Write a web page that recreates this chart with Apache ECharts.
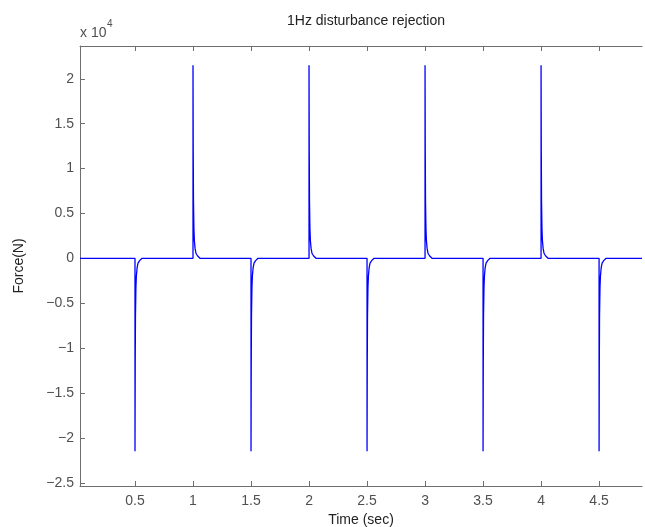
<!DOCTYPE html>
<html>
<head>
<meta charset="utf-8">
<script src="https://cdn.jsdelivr.net/npm/echarts@6/dist/echarts.min.js"></script>
<style>
html,body{margin:0;padding:0;background:#fff;}
#chart{width:645px;height:527px;}
</style>
</head>
<body>
<div id="chart"></div>
<script>
// ---- data ----
const spikeTimes = [0.5, 1.0, 1.5, 2.0, 2.5, 3.0, 3.5, 4.0, 4.5];
const spikePeaks = [-21500, 21500, -21500, 21500, -21500, 21500, -21500, 21500, -21500];
// decay shape after each spike (time offset in s, fraction of peak)
const decayOffsets   = [0, 0.002, 0.004, 0.008, 0.012, 0.018, 0.026, 0.04, 0.06];
const decayFractions = [1, 0.55, 0.3, 0.15, 0.09, 0.05, 0.025, 0.012, 0];
const xTicks = [0.5, 1, 1.5, 2, 2.5, 3, 3.5, 4, 4.5];
const yTicks = [-25000, -20000, -15000, -10000, -5000, 0, 5000, 10000, 15000, 20000];
const xMin = 0.026, xMax = 4.87;
const yMin = -25360, yMax = 23650;

// build the polyline
const data = [[xMin, 0]];
spikeTimes.forEach((t, i) => {
  data.push([t, 0]);
  decayOffsets.forEach((o, k) => data.push([t + o, spikePeaks[i] * decayFractions[k] + 0]));
});
data.push([xMax, 0]);

const axisColor = '#6e6e6e';
const textColor = '#505050';
const font = 'Liberation Sans, Arial, Helvetica, sans-serif';
const fmtY = v => { const s = String(Math.abs(v / 10000)); return v < 0 ? '\u2212' + s : s; };

const chart = echarts.init(document.getElementById('chart'));
chart.setOption({
  animation: false,
  backgroundColor: '#fff',
  title: {
    text: '1Hz disturbance rejection',
    left: 361, top: 9, textAlign: 'center',
    textStyle: {fontFamily: font, fontSize: 14, fontWeight: 'normal', color: '#222'}
  },
  graphic: [{
    type: 'text', left: 80, top: 26,
    style: {text: 'x 10', fontFamily: font, fontSize: 14, fill: textColor}
  }, {
    type: 'text', left: 107, top: 19,
    style: {text: '4', fontFamily: font, fontSize: 10, fill: textColor}
  }],
  grid: {left: 80, top: 46, right: 3, bottom: 41, containLabel: false, outerBoundsMode: 'none', show: false},
  xAxis: [{
    type: 'value', min: xMin, max: xMax, position: 'bottom',
    name: 'Time (sec)', nameLocation: 'middle', nameGap: 22,
    nameTextStyle: {fontFamily: font, fontSize: 14, color: '#222'},
    axisLine: {show: true, onZero: false, lineStyle: {color: axisColor, width: 1}},
    axisTick: {show: true, inside: true, length: 5, customValues: xTicks, lineStyle: {color: axisColor}},
    axisLabel: {show: true, customValues: xTicks, margin: 8, fontFamily: font, fontSize: 14, color: textColor},
    splitLine: {show: false}
  }, {
    type: 'value', min: xMin, max: xMax, position: 'top',
    axisLine: {show: true, onZero: false, lineStyle: {color: axisColor, width: 1}},
    axisTick: {show: true, inside: true, length: 5, customValues: xTicks, lineStyle: {color: axisColor}},
    axisLabel: {show: false},
    splitLine: {show: false}
  }],
  yAxis: [{
    type: 'value', min: yMin, max: yMax, position: 'left',
    name: 'Force(N)', nameLocation: 'middle', nameGap: 54, nameRotate: 90,
    nameTextStyle: {fontFamily: font, fontSize: 14, color: '#222'},
    axisLine: {show: true, onZero: false, lineStyle: {color: axisColor, width: 1}},
    axisTick: {show: true, inside: true, length: 5, customValues: yTicks, lineStyle: {color: axisColor}},
    axisLabel: {show: true, customValues: yTicks, margin: 6, formatter: fmtY, fontFamily: font, fontSize: 14, color: textColor},
    splitLine: {show: false}
  }],
  series: [{
    type: 'line', xAxisIndex: 0, yAxisIndex: 0,
    data: data, showSymbol: false, symbol: 'none',
    lineStyle: {color: '#0000ff', width: 1.3},
    silent: true
  }]
});
</script>
</body>
</html>
